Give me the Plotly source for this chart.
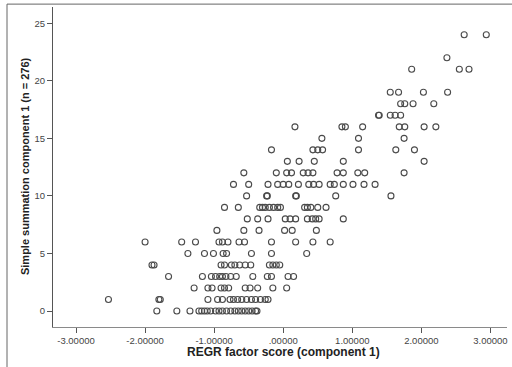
import plotly.graph_objects as go

# Factor scores (x) grouped by summation score (y)
score_rows = {
    0: [-1.83, -1.54, -1.35, -1.22, -1.18, -1.14, -1.10, -1.05, -0.98, -0.93, -0.88,
        -0.82, -0.76, -0.70, -0.65, -0.60, -0.55, -0.50, -0.45, -0.40, -0.38],
    1: [-2.53, -1.80, -1.78, -1.09, -0.95, -0.88, -0.77, -0.72, -0.66, -0.60, -0.53,
        -0.46, -0.40, -0.33, -0.26, -0.22],
    2: [-1.29, -1.09, -1.03, -0.90, -0.85, -0.79, -0.55, -0.48, -0.37, -0.15, 0.05],
    3: [-1.66, -1.17, -1.04, -0.98, -0.92, -0.88, -0.83, -0.76, -0.68, -0.44, -0.23,
        -0.17, 0.07, 0.15],
    4: [-1.90, -1.87, -0.90, -0.85, -0.75, -0.70, -0.63, -0.55, -0.47, -0.20, -0.15,
        -0.10, -0.05],
    5: [-1.38, -1.14, -1.01, -0.87, -0.82, -0.46, -0.17, 0.34],
    6: [-2.00, -1.47, -1.27, -0.93, -0.88, -0.80, -0.64, -0.56, -0.17, 0.18, 0.43, 0.68],
    7: [-0.96, -0.57, -0.35, 0.02, 0.13, 0.48],
    8: [-0.52, -0.37, -0.22, 0.03, 0.10, 0.18, 0.35, 0.42, 0.47, 0.52, 0.87],
    9: [-0.85, -0.65, -0.34, -0.30, -0.26, -0.20, -0.14, -0.08, -0.04, 0.31, 0.35,
        0.40, 0.50, 0.62],
    10: [-0.53, -0.24, -0.23, 0.18, 0.19, 0.76, 1.56],
    11: [-0.72, -0.50, -0.22, -0.08, 0.00, 0.08, 0.22, 0.37, 0.44, 0.52, 0.68, 0.74,
         0.87, 1.01, 1.17, 1.33],
    12: [-0.57, -0.10, 0.05, 0.12, 0.29, 0.36, 0.43, 0.78, 0.87, 1.08, 1.18, 1.75],
    13: [0.06, 0.23, 0.45, 0.87, 2.04],
    14: [-0.17, 0.43, 0.50, 0.57, 1.09, 1.63, 1.90],
    15: [0.56, 1.09, 1.75],
    16: [0.17, 0.85, 0.90, 1.15, 1.68, 1.76, 2.04, 2.21],
    17: [1.38, 1.39, 1.55, 1.62, 1.70],
    18: [1.70, 1.76, 1.88, 2.18],
    19: [1.55, 1.67, 2.03, 2.38],
    21: [1.86, 2.55, 2.69],
    22: [2.37],
    24: [2.62, 2.94],
}

x_ticks = [-3, -2, -1, 0, 1, 2, 3]
x_tick_labels = ["-3.00000", "-2.00000", "-1.00000", ".00000", "1.00000", "2.00000", "3.00000"]
y_ticks = [0, 5, 10, 15, 20, 25]

xs, ys = [], []
for score, factors in score_rows.items():
    for f in factors:
        xs.append(f)
        ys.append(score)

fig = go.Figure(go.Scatter(
    x=xs, y=ys, mode="markers",
    marker=dict(symbol="circle-open", size=6, color="#4a4a4a", line=dict(width=1.1)),
    hoverinfo="x+y",
))

font_family = "Liberation Sans, Arial, sans-serif"

fig.update_layout(
    width=512, height=367,
    margin=dict(l=53, r=5, t=7, b=40),
    paper_bgcolor="white", plot_bgcolor="white",
    showlegend=False,
    font=dict(family=font_family, size=9, color="#333333"),
    xaxis=dict(
        range=[-3.333, 3.24], tickvals=x_ticks, ticktext=x_tick_labels,
        showgrid=False, zeroline=False, showline=True, linecolor="#8a8a8a", linewidth=1,
        ticks="outside", ticklen=5, tickcolor="#555555",
        tickfont=dict(size=9.5, color="#444444"),
    ),
    yaxis=dict(
        range=[-1.39, 26.41], tickvals=y_ticks,
        showgrid=False, zeroline=False, showline=True, linecolor="#555555", linewidth=1,
        ticks="outside", ticklen=5, tickcolor="#555555",
        tickfont=dict(size=9.5, color="#444444"),
    ),
    annotations=[
        dict(text="<b>REGR factor score (component 1)</b>", xref="paper", yref="paper",
             x=0.508, y=-0.078, xanchor="center", yanchor="middle", showarrow=False,
             font=dict(family=font_family, size=12, color="#222222")),
        dict(text="<b>Simple summation component 1 (n = 276)</b>", xref="paper", yref="paper",
             x=-0.0617, y=0.503, xanchor="center", yanchor="middle", showarrow=False,
             textangle=-90, font=dict(family=font_family, size=11, color="#222222")),
    ],
    shapes=[
        dict(type="line", xref="paper", yref="paper", x0=-0.1013, x1=-0.1013, y0=1.009, y1=-0.13,
             line=dict(color="#666666", width=1)),
        dict(type="line", xref="paper", yref="paper", x0=-0.1013, x1=1.02, y0=1.009, y1=1.009,
             line=dict(color="#666666", width=1)),
    ],
)

fig.write_html("out.html")
